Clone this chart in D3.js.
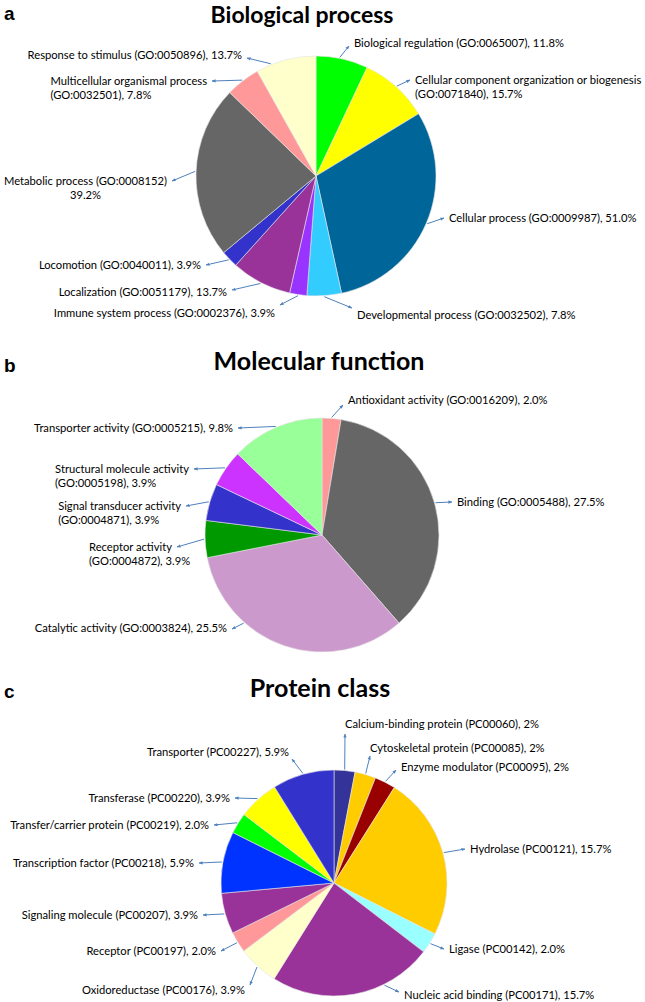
<!DOCTYPE html>
<html lang="en">
<head>
<meta charset="UTF-8" />
<title>GO annotation pie charts</title>
<style>
  body { margin: 0; background: #fff; }
  svg { display: block; }
  .letter { font-family: Arial, "Liberation Sans", sans-serif; font-weight: bold; font-size: 19px; fill: #000; }
  .title { font-family: Lato, sans-serif; font-weight: bold; text-anchor: middle; fill: #000; }
  .label { font-family: Lato, sans-serif; font-size: 11.2px; fill: #000; }
  .pointer { stroke: #4f81bd; stroke-width: 1; fill: none; }
  .slice { stroke: #e4e4e4; stroke-width: 0.6; }
</style>
</head>
<body>
<svg id="chart" width="645" height="1002"></svg>
<script src="https://cdn.jsdelivr.net/npm/d3@7"></script>
<script>
// ---------- data ----------
// a) Biological process
const bpLabels = [
  "Biological regulation (GO:0065007), 11.8%",
  "Cellular component organization or biogenesis\n(GO:0071840), 15.7%",
  "Cellular process (GO:0009987), 51.0%",
  "Developmental process (GO:0032502), 7.8%",
  "Immune system process (GO:0002376), 3.9%",
  "Localization (GO:0051179), 13.7%",
  "Locomotion (GO:0040011), 3.9%",
  "Metabolic process (GO:0008152)\n39.2%",
  "Multicellular organismal process\n(GO:0032501), 7.8%",
  "Response to stimulus (GO:0050896), 13.7%"
];
const bpValues = [11.8, 15.7, 51.0, 7.8, 3.9, 13.7, 3.9, 39.2, 7.8, 13.7];
const bpColors = ["#00ff00", "#ffff00", "#006699", "#33ccff", "#9933ff",
                  "#993399", "#3333cc", "#666666", "#ff9999", "#ffffcc"];

// b) Molecular function
const mfLabels = [
  "Antioxidant activity (GO:0016209), 2.0%",
  "Binding (GO:0005488), 27.5%",
  "Catalytic activity (GO:0003824), 25.5%",
  "Receptor activity\n(GO:0004872), 3.9%",
  "Signal transducer activity\n(GO:0004871), 3.9%",
  "Structural molecule activity\n(GO:0005198), 3.9%",
  "Transporter activity (GO:0005215), 9.8%"
];
const mfValues = [2.0, 27.5, 25.5, 3.9, 3.9, 3.9, 9.8];
const mfColors = ["#ff9999", "#666666", "#cc99cc", "#009900", "#3333cc", "#cc33ff", "#99ff99"];

// c) Protein class
const pcLabels = [
  "Calcium-binding protein (PC00060), 2%",
  "Cytoskeletal protein (PC00085), 2%",
  "Enzyme modulator (PC00095), 2%",
  "Hydrolase (PC00121), 15.7%",
  "Ligase (PC00142), 2.0%",
  "Nucleic acid binding (PC00171), 15.7%",
  "Oxidoreductase (PC00176), 3.9%",
  "Receptor (PC00197), 2.0%",
  "Signaling molecule (PC00207), 3.9%",
  "Transcription factor (PC00218), 5.9%",
  "Transfer/carrier protein (PC00219), 2.0%",
  "Transferase (PC00220), 3.9%",
  "Transporter (PC00227), 5.9%"
];
const pcValues = [2, 2, 2, 15.7, 2.0, 15.7, 3.9, 2.0, 3.9, 5.9, 2.0, 3.9, 5.9];
const pcColors = ["#333399", "#ffcc00", "#990000", "#ffcc00", "#99ffff", "#993399", "#ffffcc",
                  "#ff9999", "#993399", "#0033ff", "#00ff00", "#ffff00", "#3333cc"];

// ---------- layout (label placement, hand tuned like the original) ----------
// side: where the text sits relative to the arrow end (ex, ey); f: point along the slice rim
const bpLayout = [
  { side: "right", ex: 349, ey: 46, dy: -3, f: 0.45 },
  { side: "right", ex: 410, ey: 80 },
  { side: "right", ex: 444, ey: 218 },
  { side: "right", ex: 352, ey: 308, dy: 7 },
  { side: "left",  ex: 280, ey: 305, dy: 8 },
  { side: "left",  ex: 232, ey: 290, dy: 2 },
  { side: "left",  ex: 206, ey: 265 },
  { side: "left",  ex: 172, ey: 181, center2: true },
  { side: "left",  ex: 212, ey: 81 },
  { side: "left",  ex: 247, ey: 58, dy: -3, f: 0.25 }
];
const mfLayout = [
  { side: "right", ex: 343, ey: 405, dy: -5 },
  { side: "right", ex: 452, ey: 502 },
  { side: "left",  ex: 232, ey: 629, dy: -1, f: 0.69 },
  { side: "left",  ex: 177, ey: 547 },
  { side: "left",  ex: 186, ey: 506 },
  { side: "left",  ex: 194, ey: 469 },
  { side: "left",  ex: 238, ey: 428 }
];
const pcLayout = [
  { side: "up",     ex: 345, ey: 734, dy: -10 },
  { side: "up",     ex: 370, ey: 756, dy: -8 },
  { side: "right",  ex: 396, ey: 770, dy: -3 },
  { side: "right",  ex: 465, ey: 849 },
  { side: "right",  ex: 444, ey: 949 },
  { side: "right",  ex: 399, ey: 992, dy: 3, f: 0.31 },
  { side: "left",   ex: 250, ey: 985, dy: 5 },
  { side: "left",   ex: 221, ey: 951 },
  { side: "left",   ex: 203, ey: 915 },
  { side: "left",   ex: 199, ey: 863 },
  { side: "left",   ex: 214, ey: 825 },
  { side: "left",   ex: 235, ey: 798 },
  { side: "upleft", ex: 292, ey: 759, dy: -7 }
];

const panels = [
  { letter: "a", title: "Biological process", fs: 23, ty: 22.7, tx: 302, ly: 20,
    cx: 316, cy: 176, r: 120, labels: bpLabels, values: bpValues, colors: bpColors, layout: bpLayout },
  { letter: "b", title: "Molecular function", fs: 25, ty: 370, tx: 319, ly: 372,
    cx: 322, cy: 535, r: 117, labels: mfLabels, values: mfValues, colors: mfColors, layout: mfLayout },
  { letter: "c", title: "Protein class", fs: 25, ty: 697, tx: 320, ly: 698,
    cx: 334, cy: 883, r: 113, labels: pcLabels, values: pcValues, colors: pcColors, layout: pcLayout }
];

// ---------- drawing ----------
const svg = d3.select("#chart");
const arrowColor = "#4f81bd";
const lineH = 14;
const gap = 5;

svg.append("defs").append("marker")
  .attr("id", "head")
  .attr("viewBox", "0 0 10 10")
  .attr("refX", 9).attr("refY", 5)
  .attr("markerWidth", 4).attr("markerHeight", 4)
  .attr("orient", "auto")
  .append("path")
  .attr("d", "M0,1 L10,5 L0,9 Z")
  .attr("fill", arrowColor);

panels.forEach(p => {
  svg.append("text").attr("class", "letter").attr("x", 4).attr("y", p.ly).text(p.letter);
  svg.append("text").attr("class", "title")
    .attr("x", p.tx).attr("y", p.ty)
    .style("font-size", p.fs + "px")
    .text(p.title);

  const rows = p.values.map((v, i) => ({ value: v, label: p.labels[i], color: p.colors[i], pos: p.layout[i] }));
  const arcs = d3.pie().sort(null).value(d => d.value)(rows);
  const arc = d3.arc().innerRadius(0).outerRadius(p.r);

  const g = svg.append("g");
  g.append("g").attr("transform", `translate(${p.cx},${p.cy})`)
    .selectAll("path")
    .data(arcs)
    .join("path")
    .attr("class", "slice")
    .attr("d", arc)
    .attr("fill", d => d.data.color);

  arcs.forEach(d => {
    const pos = d.data.pos;
    const f = pos.f == null ? 0.5 : pos.f;
    const a = d.startAngle + (d.endAngle - d.startAngle) * f;
    const sx = p.cx + (p.r + 1) * Math.sin(a);
    const sy = p.cy - (p.r + 1) * Math.cos(a);

    g.append("line")
      .attr("class", "pointer")
      .attr("x1", sx).attr("y1", sy)
      .attr("x2", pos.ex).attr("y2", pos.ey)
      .attr("marker-end", "url(#head)");

    const lines = d.data.label.split("\n");
    const cy = pos.ey + (pos.dy || 0);
    const t = g.append("text").attr("class", "label");
    const spans = lines.map((s, k) =>
      t.append("tspan").attr("dy", k === 0 ? 0 : lineH).text(s));
    const w0 = spans[0].node().getComputedTextLength();

    let x0;
    if (pos.side === "right") {
      x0 = pos.ex + gap;
    } else if (pos.side === "left") {
      x0 = pos.ex - gap - w0;
    } else if (pos.side === "up") {
      x0 = pos.ex + (pos.dx || 0);
    } else {
      x0 = pos.ex - 3 - w0;
    }
    t.attr("y", cy + 4);
    spans.forEach((s, k) => {
      if (k > 0 && pos.center2) {
        const wk = s.node().getComputedTextLength();
        s.attr("x", x0 + (w0 - wk) / 2);
      } else {
        s.attr("x", x0);
      }
    });
  });
});
</script>
</body>
</html>
